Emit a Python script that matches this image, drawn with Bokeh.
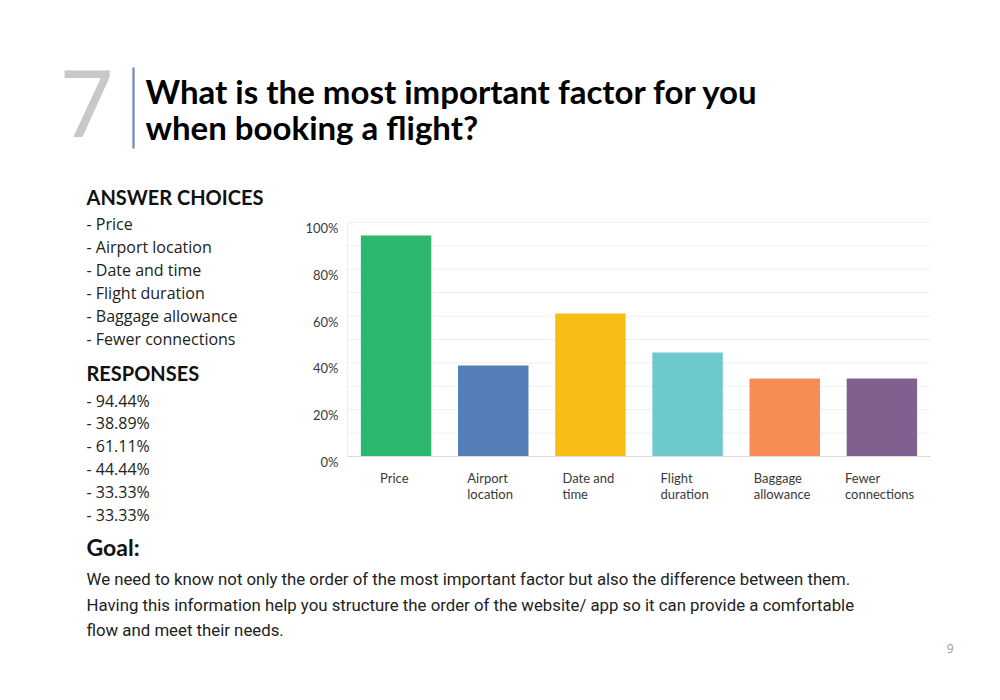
from bokeh.plotting import figure
from bokeh.models import Range1d, FixedTicker, LinearAxis
from bokeh.core.properties import value
from bokeh.embed import file_html
from bokeh.resources import INLINE

# ---- data ----
categories = ["Price", "Airport location", "Date and time", "Flight duration",
              "Baggage allowance", "Fewer connections"]
label_line1 = ["Price", "Airport", "Date and", "Flight", "Baggage", "Fewer"]
label_line2 = ["", "location", "time", "duration", "allowance", "connections"]
responses = [94.44, 38.89, 61.11, 44.44, 33.33, 33.33]
colors = ["#2EB76E", "#547EB8", "#F9BE15", "#6DC9CC", "#F78D55", "#80608F"]
y_ticks = [0, 20, 40, 60, 80, 100]
y_tick_labels = ["0%", "20%", "40%", "60%", "80%", "100%"]
grid_ticks = [10, 20, 30, 40, 50, 60, 70, 80, 90, 100]

question_no = "7"
title_lines = ["What is the most important factor for you", "when booking a flight?"]
choices_header = "ANSWER CHOICES"
responses_header = "RESPONSES"
goal_header = "Goal:"
goal_lines = [
    "We need to know not only the order of the most important factor but also the difference between them.",
    "Having this information help you structure the order of the website/ app so it can provide a comfortable",
    "flow and meet their needs.",
]
page_number = "9"

# ---- page geometry (pixels) ----
W, H = 984, 684
CH_LEFT, CH_RIGHT, CH_TOP, CH_BOTTOM = 347, 930, 222, 456
n = len(categories)
positions = list(range(1, n + 1))

# category range: 0.5 .. n+0.5 maps onto CH_LEFT .. CH_RIGHT
ppu_x = (CH_RIGHT - CH_LEFT) / n
x_start = 0.5 - CH_LEFT / ppu_x
x_end = x_start + W / ppu_x
# percent range: 0 .. 100 maps onto CH_BOTTOM .. CH_TOP
ppu_y = (CH_BOTTOM - CH_TOP) / 100.0
y_start = -(H - CH_BOTTOM) / ppu_y
y_end = y_start + H / ppu_y
LABEL_DROP = 5.5  # tick labels sit slightly below their gridlines in the original
d = LABEL_DROP / ppu_y

p = figure(width=W, height=H, x_range=Range1d(0, W), y_range=Range1d(H, 0),
           x_axis_type=None, y_axis_type=None, output_backend="svg",
           toolbar_location=None, min_border=0)
p.outline_line_color = None
p.background_fill_color = "white"
p.border_fill_color = "white"
p.extra_x_ranges = {"bars": Range1d(x_start, x_end)}
p.extra_y_ranges = {"pct": Range1d(y_start, y_end),
                    "pct_labels": Range1d(y_start + d, y_end + d)}

# gridlines
p.segment(x0=[0.5] * len(grid_ticks), x1=[n + 0.5] * len(grid_ticks), y0=grid_ticks, y1=grid_ticks,
          x_range_name="bars", y_range_name="pct", line_color="#efefef", line_width=1)

# bars
p.vbar(x=positions, top=responses, width=0.725, fill_color=colors, line_color=None,
       x_range_name="bars", y_range_name="pct")

# y axis line
yline = LinearAxis(y_range_name="pct", fixed_location=CH_LEFT, bounds=(0, 100),
                   ticker=FixedTicker(ticks=[]), axis_line_color="#eeeeee",
                   major_tick_line_color=None, minor_tick_line_color=None,
                   major_label_text_font_size="0px")
p.add_layout(yline, "left")
# y tick labels
yax = LinearAxis(y_range_name="pct_labels", fixed_location=CH_LEFT, bounds=(0, 100),
                 ticker=FixedTicker(ticks=y_ticks),
                 major_label_overrides={t: l for t, l in zip(y_ticks, y_tick_labels)},
                 axis_line_color=None, major_tick_line_color=None,
                 minor_tick_line_color=None, major_tick_out=0, major_label_standoff=9,
                 major_label_text_font="Lato", major_label_text_font_size="13px",
                 major_label_text_color="#3a3a3a")
p.add_layout(yax, "left")

# x axis line
xax = LinearAxis(x_range_name="bars", fixed_location=CH_BOTTOM, bounds=(0.5, n + 0.5),
                 ticker=FixedTicker(ticks=[]), axis_line_color="#d9d9d9",
                 major_tick_line_color=None, minor_tick_line_color=None,
                 major_label_text_font_size="0px")
p.add_layout(xax, "below")

# category labels: two-line, left-aligned blocks centred under each bar
label_dx = [-16, -26, -28, -27, -31, -37]
for lines, dy in ((label_line1, 21.8), (label_line2, 37.8)):
    p.text(x=positions, y=[-dy / ppu_y] * n, text=lines, x_offset=label_dx,
           x_range_name="bars", y_range_name="pct",
           text_font=value("Lato"), text_font_size=value("13px"), text_color="#3a3a3a",
           text_align="left", text_baseline="middle")


def put(texts, xs, baselines, size, color="#222222", font="Open Sans", style="normal",
        align="left"):
    ys = [b - 0.37 * size for b in baselines]
    p.text(x=xs, y=ys, text=texts, text_font=value(font), text_font_size=value("%gpx" % size),
           text_color=color, text_font_style=style, text_align=align, text_baseline="middle")


# number + title
put([question_no], [60], [138], 94, color="#c8c8c8", font="Noto Sans")
p.segment(x0=[133], y0=[67], x1=[133], y1=[148], line_color="#7084bf", line_width=2.2)
put(title_lines, [145, 145], [102.5, 138.5], 33, color="#000000", font="Lato", style="bold")

# left column
put([choices_header, responses_header], [86, 86], [204, 380], 20, color="#111111",
    font="Lato", style="bold")
put(["- " + c for c in categories], [86] * n, [229.5 + 23 * i for i in range(n)], 16)
put(["- %.2f%%" % r for r in responses], [86] * n, [406 + 22.9 * i for i in range(n)], 16)

# goal
put([goal_header], [86], [555], 23, color="#111111", font="Lato", style="bold")
put(goal_lines, [86] * 3, [585 + 25.4 * i for i in range(3)], 16.8, font="Roboto")
put([page_number], [953], [652], 12, color="#9a9a9a", align="right")

open("out.html", "w").write(file_html(p, INLINE))
